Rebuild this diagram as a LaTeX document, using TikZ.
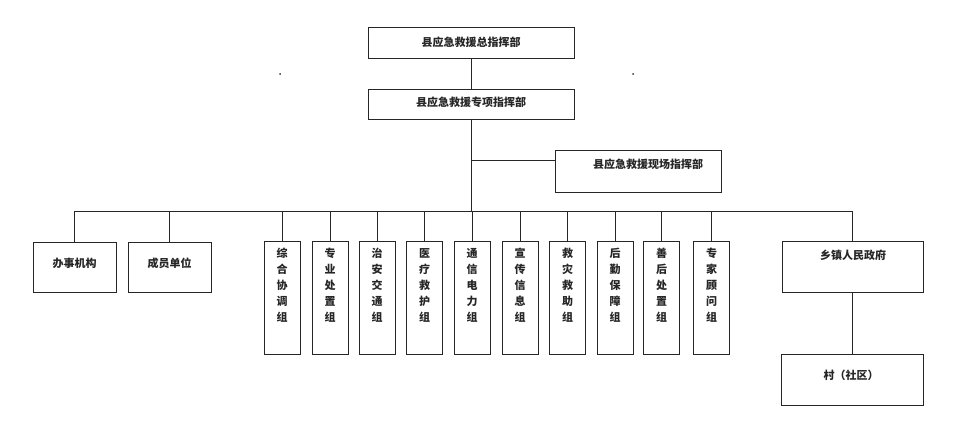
\documentclass[tikz,border=0pt]{standalone}
\usepackage{fontspec}
\newfontfamily\cjk{Noto Sans CJK SC}
\begin{document}
\begin{tikzpicture}[x=1pt,y=-1pt,line width=0.9pt,
  conn/.style={draw=black!85},
  box/.style={draw=black!85,inner sep=0pt,anchor=center},
  txt/.style={font=\cjk\bfseries\fontsize{11}{16}\selectfont,text=black!85,inner sep=0pt,anchor=center},
  vbox/.style={box,minimum width=36pt,minimum height=113pt},
  hbox/.style={box,minimum width=83pt,minimum height=50pt}]
\useasboundingbox (0,0) rectangle (956,439);
% top chain
\node[box,minimum width=206pt,minimum height=31pt] (top) at (471,42.5) {};
\node[txt] (toptxt) at (471,42) {县应急救援总指挥部};
\node[box,minimum width=206pt,minimum height=30pt] (spec) at (471,104) {};
\node[txt] (spectxt) at (471,102) {县应急救援专项指挥部};
\node[box,minimum width=166pt,minimum height=42pt] (site) at (638,171) {};
\node[txt] (sitetxt) at (648,164) {县应急救援现场指挥部};
\coordinate (siteL) at (555,160);
\coordinate (busL) at (75,211);
\coordinate (busR) at (852,211);
\draw[conn] (top.south) -- (spec.north);
\draw[conn] (spec.south) -- (spec.south |- busL);
\draw[conn] (spec.south |- siteL) -- (siteL);
\draw[conn] (busL) -- (busR);
% left boxes
\node[hbox] (bsjg) at (74.5,267) {};
\node[txt] (bsjgtxt) at (74.5,263) {办事机构};
\node[hbox] (cydw) at (169.5,267) {};
\node[txt] (cydwtxt) at (169.5,263) {成员单位};
% vertical groups
\node[vbox] (g1) at (282,297.5) {};
\node[txt,align=center] (g1t) at (282,285) {综\\合\\协\\调\\组};
\node[vbox] (g2) at (330,297.5) {};
\node[txt,align=center] (g2t) at (330,285) {专\\业\\处\\置\\组};
\node[vbox] (g3) at (377,297.5) {};
\node[txt,align=center] (g3t) at (377,285) {治\\安\\交\\通\\组};
\node[vbox] (g4) at (424.5,297.5) {};
\node[txt,align=center] (g4t) at (424.5,285) {医\\疗\\救\\护\\组};
\node[vbox] (g5) at (472,297.5) {};
\node[txt,align=center] (g5t) at (472,285) {通\\信\\电\\力\\组};
\node[vbox] (g6) at (520,297.5) {};
\node[txt,align=center] (g6t) at (520,285) {宣\\传\\信\\息\\组};
\node[vbox] (g7) at (567.5,297.5) {};
\node[txt,align=center] (g7t) at (567.5,285) {救\\灾\\救\\助\\组};
\node[vbox] (g8) at (615,297.5) {};
\node[txt,align=center] (g8t) at (615,285) {后\\勤\\保\\障\\组};
\node[vbox] (g9) at (661.5,297.5) {};
\node[txt,align=center] (g9t) at (661.5,285) {善\\后\\处\\置\\组};
\node[vbox] (g10) at (711.5,297.5) {};
\node[txt,align=center] (g10t) at (711.5,285) {专\\家\\顾\\问\\组};
% right column
\node[box,minimum width=141pt,minimum height=51pt] (xz) at (852.5,266.5) {};
\node[txt] (xztxt) at (853,255) {乡镇人民政府};
\node[box,minimum width=142pt,minimum height=51pt] (cun) at (852.5,379.5) {};
\node[txt] (cuntxt) at (851,375) {村（社区）};
\draw[conn] (xz.south) -- (cun.north);
% drops from bus
\foreach \n in {bsjg,cydw,g1,g2,g3,g4,g5,g6,g7,g8,g9,g10,xz}
  \draw[conn] (\n.north |- busL) -- (\n.north);
% scan specks
\fill[black!80] (280,74) circle (1pt);
\fill[black!80] (633,74) circle (1pt);
\end{tikzpicture}
\end{document}
